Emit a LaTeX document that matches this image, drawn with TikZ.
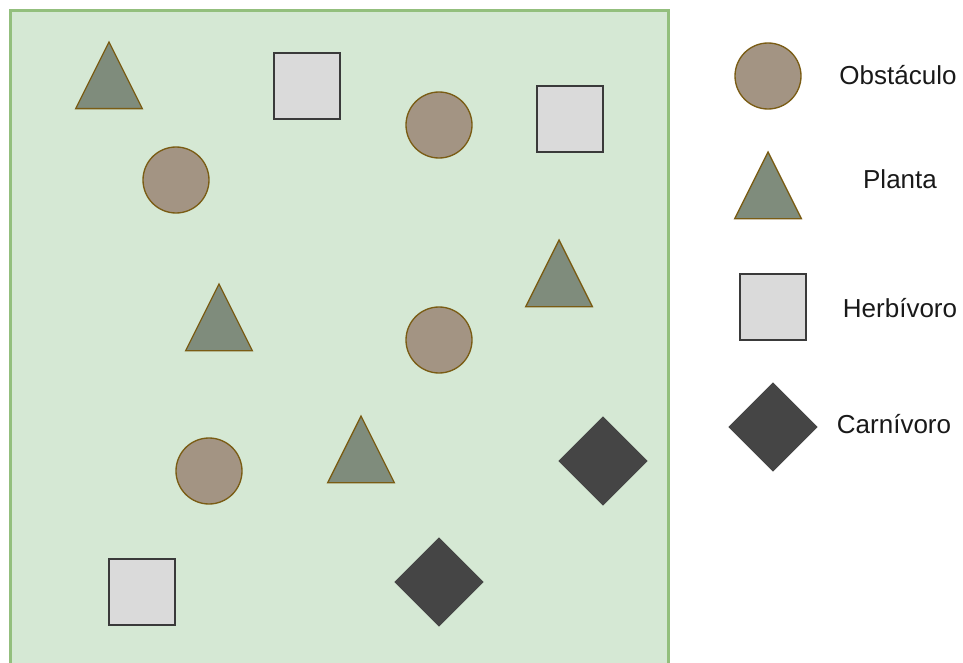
\documentclass[tikz,border=0pt]{standalone}
\usepackage{fontspec}
\setmainfont{Liberation Sans}
\usepackage{tikz}
\usetikzlibrary{shapes.geometric, positioning}
\definecolor{campofill}{HTML}{D5E8D4}
\definecolor{campoline}{HTML}{93BF7D}
\definecolor{obsfill}{HTML}{A39483}
\definecolor{obsline}{HTML}{7A5C14}
\definecolor{plantfill}{HTML}{7F8C7C}
\definecolor{herbfill}{HTML}{DADADA}
\definecolor{herbline}{HTML}{3A3A3A}
\definecolor{carnfill}{HTML}{454545}

\begin{document}
\begin{tikzpicture}[
    x=0.75pt, y=-0.75pt,
    every node/.style={inner sep=0pt, outer sep=0pt},
    campo/.style={draw=campoline, fill=campofill, line width=2pt},
    obstaculo/.style={circle, draw=obsline, fill=obsfill,
                      line width=1pt, minimum size=49.5pt},
    planta/.style={isosceles triangle, isosceles triangle stretches,
                   shape border rotate=90, draw=obsline, fill=plantfill,
                   line width=1pt, minimum width=50pt, minimum height=50pt,
                   anchor=apex},
    herbivoro/.style={rectangle, draw=herbline, fill=herbfill,
                      line width=1.5pt, minimum size=49pt},
    carnivoro/.style={diamond, fill=carnfill,
                      minimum width=67pt, minimum height=67pt},
    lbl/.style={font=\fontsize{19.5}{23}\selectfont, text=black!90,
                anchor=base},
  ]

  \clip (0,0) rectangle (963,663);

  %% --- field -------------------------------------------------------------
  \draw[campo] (10.5,10.5) rectangle (668.5,690);

  %% --- obstacles ---------------------------------------------------------
  \node[obstaculo] (obs1) at (176,180) {};
  \node[obstaculo] (obs2) at (439,125) {};
  \node[obstaculo] (obs3) at (439,340) {};
  \node[obstaculo] (obs4) at (209,471) {};

  %% --- plants (placed by apex) -------------------------------------------
  \node[planta] (pla1) at (109,42)  {};
  \node[planta] (pla2) at (219,284) {};
  \node[planta] (pla3) at (559,240) {};
  \node[planta] (pla4) at (361,416) {};

  %% --- herbivores --------------------------------------------------------
  \node[herbivoro] (herb1) at (307,86)  {};
  \node[herbivoro] (herb2) at (570,119) {};
  \node[herbivoro] (herb3) at (142,592) {};

  %% --- carnivores --------------------------------------------------------
  \node[carnivoro] (carn1) at (603,461) {};
  \node[carnivoro] (carn2) at (439,582) {};

  %% --- legend ------------------------------------------------------------
  \node[obstaculo] (lobs)  at (768,76)  {};
  \node[planta]    (lpla)  at (768,152) {};
  \node[herbivoro] (lherb) at (773,307) {};
  \node[carnivoro] (lcarn) at (773,427) {};

  \node[lbl] (tobs)  at (898,85)  {Obstáculo};
  \node[lbl] (tpla)  at (900,189) {Planta};
  \node[lbl] (therb) at (900,317) {Herbívoro};
  \node[lbl] (tcarn) at (894,433) {Carnívoro};

\end{tikzpicture}
\end{document}
